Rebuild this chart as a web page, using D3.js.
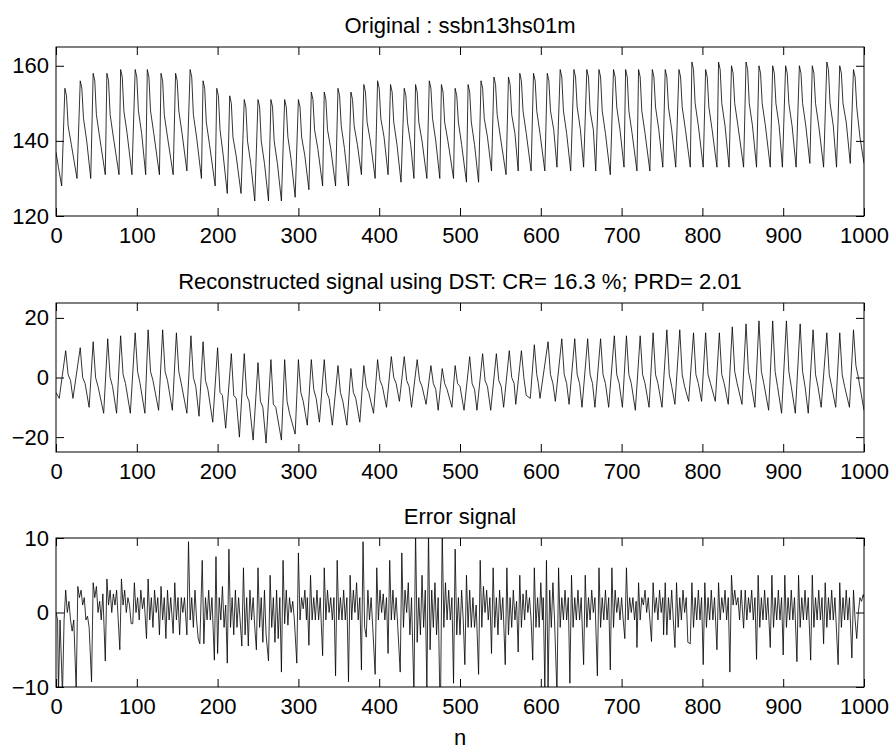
<!DOCTYPE html>
<html>
<head>
<meta charset="utf-8">
<script src="https://cdnjs.cloudflare.com/ajax/libs/d3/7.8.5/d3.min.js"></script>
<style>
body { margin: 0; background: #fff; }
text { font-family: "Liberation Sans", Arial, sans-serif; }
</style>
</head>
<body>
<script>
var w = 893;
var h = 749;

var xTicks = [0, 100, 200, 300, 400, 500, 600, 700, 800, 900, 1000];
var origTicks = [120, 140, 160];
var recTicks = [-20, 0, 20];
var errTicks = [-10, 0, 10];

var titles = ["Original : ssbn13hs01m",
  "Reconstructed signal using DST: CR= 16.3 %; PRD= 2.01",
  "Error signal"];

// [n, value] (peak, shoulder, knee, trough per beat)
var original = [[0,137],[3,133],[7,128],
  [11,154],[13,152],[15,144],[19,139],[26,130],
  [30,156],[32,154],[34,146],[38,140],[43,130],
  [46,158],[48,156],[50,147],[54,141],[61,131],
  [63,158],[65,156],[67,147],[71,141],[78,131],
  [80,159],[82,157],[84,148],[88,142],[94,131],
  [98,159],[100,157],[102,148],[106,142],[111,131],
  [113,159],[115,157],[117,148],[121,142],[128,131],
  [130,158],[132,156],[134,147],[138,141],[145,131],
  [148,158],[150,156],[152,148],[156,142],[162,132],
  [166,159],[168,157],[170,147],[174,141],[180,130],
  [182,156],[184,154],[186,145],[190,139],[197,128],
  [199,154],[201,152],[203,143],[207,136],[212,126],
  [215,152],[217,150],[219,141],[223,136],[229,126],
  [233,151],[235,149],[237,140],[241,134],[246,124],
  [250,151],[252,149],[254,140],[258,134],[263,124],
  [266,151],[268,149],[270,140],[274,134],[279,124],
  [283,151],[285,149],[287,141],[291,135],[296,125],
  [300,151],[302,149],[304,141],[308,136],[313,127],
  [316,153],[318,151],[320,143],[324,138],[330,128],
  [332,153],[334,151],[336,143],[340,138],[346,128],
  [349,154],[351,152],[353,144],[357,138],[362,128],
  [365,153],[367,151],[369,144],[373,139],[378,131],
  [381,155],[383,153],[385,145],[389,140],[395,130],
  [398,156],[400,154],[402,146],[406,141],[411,131],
  [414,155],[416,153],[418,145],[422,139],[427,129],
  [431,154],[433,152],[435,145],[439,139],[443,130],
  [445,155],[447,153],[449,145],[453,140],[459,130],
  [462,156],[464,154],[466,146],[470,140],[475,130],
  [477,155],[479,153],[481,145],[485,140],[492,130],
  [494,154],[496,152],[498,145],[502,139],[508,129],
  [510,155],[512,153],[514,145],[518,139],[523,129],
  [526,156],[528,154],[530,146],[534,141],[539,132],
  [542,157],[544,155],[546,147],[550,141],[557,131],
  [560,157],[562,155],[564,147],[568,142],[572,132],
  [574,158],[576,156],[578,148],[582,142],[588,132],
  [591,158],[593,156],[595,148],[599,142],[605,132],
  [608,158],[610,156],[612,148],[616,143],[620,133],
  [624,159],[626,157],[628,148],[632,142],[637,132],
  [641,159],[643,157],[645,149],[649,143],[653,133],
  [657,159],[659,157],[661,148],[665,143],[668,132],
  [672,159],[674,157],[676,148],[680,142],[686,131],
  [690,159],[692,157],[694,149],[698,143],[703,133],
  [705,159],[707,157],[709,148],[713,142],[719,132],
  [721,159],[723,157],[725,148],[729,142],[735,132],
  [738,159],[740,157],[742,149],[746,143],[751,133],
  [754,159],[756,157],[758,149],[762,143],[767,133],
  [771,159],[773,157],[775,149],[779,143],[785,133],
  [787,161],[789,159],[791,150],[795,144],[801,133],
  [804,159],[806,157],[808,149],[812,143],[818,133],
  [820,161],[822,159],[824,150],[828,144],[833,133],
  [836,160],[838,158],[840,150],[844,144],[851,133],
  [854,161],[856,159],[858,150],[862,144],[867,133],
  [870,160],[872,158],[874,150],[878,144],[884,133],
  [887,160],[889,158],[891,150],[895,144],[899,133],
  [903,160],[905,158],[907,150],[911,144],[916,133],
  [920,160],[922,158],[924,150],[928,144],[933,134],
  [936,160],[938,158],[940,150],[944,144],[950,133],
  [954,161],[956,159],[958,150],[962,144],[966,133],
  [970,160],[972,158],[974,150],[978,145],[983,134],
  [987,159],[989,157],[991,149],[995,141],[1000,134]];

// reconstructed panel: peak, notch, notch end, trough per beat
var reconstructed = [[0,-5],[4,-7],
  [12,9],[15,1],[18,-1],[21,-7],
  [30,10],[33,0],[36,-2],[41,-10],
  [46,12],[49,0],[52,-3],[59,-12],
  [64,13],[67,0],[70,-3],[75,-12],
  [80,14],[83,1],[86,-2],[92,-12],
  [98,15],[101,2],[104,-2],[110,-12],
  [114,16],[117,2],[120,-1],[127,-11],
  [132,16],[135,2],[138,-1],[144,-11],
  [149,15],[152,2],[155,-2],[162,-12],
  [167,14],[170,0],[173,-3],[177,-13],
  [182,12],[185,-1],[188,-4],[194,-15],
  [200,10],[203,-5],[206,-6],[210,-17],
  [217,8],[220,-6],[223,-7],[227,-20],
  [233,8],[236,-6],[239,-8],[244,-21],
  [250,5],[253,-8],[256,-10],[260,-22],
  [266,6],[269,-9],[272,-10],[279,-21],
  [283,6],[286,-8],[289,-12],[296,-19],
  [300,6],[303,-5],[306,-8],[311,-16],
  [316,6],[319,-4],[322,-7],[326,-15],
  [332,6],[335,-5],[338,-7],[342,-16],
  [349,4],[352,-5],[355,-8],[360,-16],
  [365,3],[368,-5],[371,-7],[376,-15],
  [381,4],[384,-3],[387,-5],[393,-12],
  [398,6],[401,-1],[404,-3],[409,-10],
  [415,7],[418,0],[421,-2],[425,-8],
  [431,7],[434,-1],[437,-3],[440,-10],
  [447,6],[450,-1],[453,-3],[458,-9],
  [464,4],[467,-2],[470,-4],[473,-11],
  [478,3],[481,-2],[484,-4],[490,-10],
  [494,4],[497,-2],[500,-3],[505,-11],
  [512,7],[515,-2],[518,-4],[521,-11],
  [528,8],[531,-1],[534,-3],[538,-11],
  [545,8],[548,-1],[551,-3],[554,-10],
  [561,9],[564,0],[567,-2],[569,-9],
  [576,9],[579,0],[582,-6],[587,-7],
  [592,11],[595,1],[597,-2],[599,-7],
  [609,12],[612,1],[615,-2],[618,-8],
  [626,13],[629,1],[632,-2],[635,-9],
  [642,13],[645,1],[648,-2],[651,-10],
  [658,13],[661,1],[664,-2],[667,-10],
  [674,13],[677,1],[680,-2],[684,-10],
  [691,14],[694,1],[697,-2],[701,-10],
  [706,14],[709,1],[712,-2],[717,-11],
  [723,14],[726,1],[729,-2],[734,-10],
  [739,15],[742,1],[745,-2],[750,-10],
  [756,16],[759,1],[762,-3],[766,-9],
  [772,16],[775,1],[778,-3],[783,-8],
  [789,15],[792,1],[795,-2],[799,-8],
  [804,15],[807,1],[810,-2],[816,-8],
  [821,15],[824,1],[827,-2],[832,-9],
  [837,17],[840,2],[843,-2],[849,-9],
  [854,18],[857,2],[860,-2],[865,-10],
  [870,19],[873,2],[876,-2],[882,-11],
  [887,19],[890,2],[893,-3],[898,-12],
  [904,19],[907,2],[910,-3],[915,-12],
  [921,18],[924,2],[927,-3],[931,-12],
  [937,16],[940,1],[943,-3],[947,-10],
  [954,15],[957,1],[960,-3],[965,-10],
  [970,15],[973,1],[976,-3],[982,-10],
  [987,16],[990,4],[993,0],[1000,-11]];

// error panel
var errorSig = [[0,0],[2,-1],[3,-11],[5,-1],[8,-11],[10,-1],[12,3],[14,0],[16,1.5],[18,-1],[20,-2.5],[22,-1],
  [25,-10.5],[27,3.5],[29,2],[31,3],[33,1],[35,2],[37,-1],[39,-0.5],[41,-2],
  [44,-9.3],[46,4],[48,2],[50,3.5],[52,0],[54,1.5],[56,-1],[58,2.5],
  [61,-6.5],[63,4.5],[65,1],[67,3],[69,0],[71,2.5],[73,1],[75,3],[77,-1],
  [79,-5],[81,4.5],[83,1],[85,3],[87,0],[89,2],[91,1],[93,-1.5],
  [95,-1.5],[97,4],[99,0],[101,2],[103,-1],[105,3],[107,0.5],[109,2],
  [112,-3.5],[114,4.5],[116,-1],[118,2],[120,-2],[122,3],[124,0],[126,2],
  [128,-3],[130,3.5],[132,-1],[134,2],[136,-3.5],[138,3],[140,-1],[142,2],
  [145,-2.8],[147,4],[149,-1],[151,2],[153,-3],[155,2],[157,0],[159,2],
  [162,-3],[164,9.5],[166,-1],[168,2],[170,-2],[172,3],[174,-1],[176,-3.5],
  [178,-4.2],[181,7],[183,-4.2],[185,2],[187,-1],[189,3],[191,-1],[193,2],
  [196,-6.4],[198,7.5],[200,-5.5],[202,2],[204,-1],[206,3.5],[208,-2],[210,1],
  [212,-6.8],[214,8.5],[216,-2],[218,2],[220,-3],[222,3],[224,-2],[226,2],
  [230,-4.5],[232,6],[234,-3],[236,2],[238,-4.5],[240,3],[242,-1],[244,2],[246,-2],
  [248,-5],[250,6],[252,-2],[254,2],[256,-4],[258,3],[260,-3],
  [263,-6.5],[265,5],[267,-2],[269,2],[271,-4],[273,3],[275,-3.5],[277,2],
  [279,-8],[281,7],[283,-1.5],[285,3],[287,-1.7],[289,2],[291,0],[293,1.5],[295,-1],
  [298,-6.8],[300,8],[302,-1],[304,2],[306,0.5],[308,3],[310,-1],[311,2],
  [313,-4.4],[315,5],[317,-1],[319,2],[321,-1],[323,3],[325,-1],[327,2],
  [330,-5.8],[332,6],[334,-1],[336,3],[338,0],[340,2],[342,-1],[344,2],
  [346,-8.5],[348,7],[350,-1],[352,2],[354,-1],[356,3],[358,-1],[360,2],
  [362,-9.3],[364,5],[366,-1],[368,3],[370,0],[372,4],[374,-1],[376,2],
  [378,-7.7],[380,9.5],[382,-2],[384,-3.3],[386,3],[388,-1],[390,2],[392,-2],
  [395,-8.3],[397,6],[399,-1],[401,3],[403,0],[405,2.5],[407,-1],[409,2],
  [411,-5.5],[413,7],[415,-1],[417,3],[419,-1],[421,2],[423,-2],
  [426,-8],[428,8],[430,-2],[432,3],[434,0],[436,4],[438,-3],[440,2],
  [443,-11],[445,11],[447,-4],[449,2],[451,-3],[453,5],[455,-2],[457,3],
  [459,-10.5],[461,11],[463,-5],[465,3],[467,-2],[469,4],[471,-3],[473,2],
  [475,-11],[476,-11],[478,11],[480,-2],[482,4],[484,-1],[486,3],[488,-1],[490,2],
  [492,-9.5],[494,8.5],[496,-3],[498,2],[500,-3],[502,3],[504,-1],
  [506,-7],[508,5],[510,-2],[512,3],[514,-2],[516,2],[518,-2],[520,1],
  [523,-8.3],[525,7],[527,-2],[529,3.5],[531,0],[533,3],[535,-1],[537,2],
  [539,-5.5],[541,6],[543,-2],[545,2],[547,-3],[549,3],[551,-1],[553,2],
  [556,-7],[558,6],[560,-3],[562,2],[564,-2],[566,3],[568,-1],[570,1.5],
  [572,-5.3],[574,5],[576,-2],[578,2.5],[580,-1],[582,3],[584,0],[586,2],[588,-1],
  [590,-6.4],[592,6],[594,-2],[596,2],[598,-2],[600,4],[602,-1],[603,2],
  [605,-10],[607,7],[609,-10],[611,3],[613,-2],[615,4],[617,-1],
  [620,-11],[622,6],[624,-2],[626,2],[628,-1],[630,3],[632,-1],[634,2],
  [636,-9.5],[638,5],[640,-2],[642,2],[644,-1],[646,3],[648,-1],[650,2],
  [653,-7],[655,5],[657,-2],[659,2],[661,-1],[663,3],[665,0],[667,2],
  [670,-8.5],[672,6],[674,-2],[676,2],[678,-1],[680,3],[682,-1],[684,2],
  [686,-7.7],[688,6],[690,-2],[692,3],[694,0],[696,2],[698,-1],[700,2],[702,-1],
  [704,-3.5],[706,6],[708,-1],[710,2],[712,0],[714,2],[716,-1],[718,1.5],
  [719,-4.7],[721,4],[723,-1],[725,2],[727,1],[729,3],[731,0],[733,2],[735,-1],
  [737,-3.9],[739,4],[741,0],[743,2],[745,-1],[747,3],[749,0],[751,2],
  [752,-3],[754,4],[756,-3],[758,2],[760,-1],[762,3],[764,-1],
  [766,-4.7],[768,4],[770,-2],[772,2],[774,-1],[776,3],[778,0],[780,2],[782,-4],
  [785,-4.2],[787,4],[789,-2],[791,2],[793,-1],[795,3],[797,-1],[799,2],
  [801,-7],[803,4],[805,-2],[807,2],[809,-1],[811,3],[813,-1],[815,2],
  [818,-5],[820,4],[822,-1],[824,2],[826,0],[828,3],[830,-1],[832,2],
  [834,-8],[836,5],[838,1],[840,3],[842,1],[844,2],[846,-1],[848,3],
  [851,-2.1],[853,3],[855,-1],[857,2],[859,0],[861,3],[863,-1],[865,2],
  [867,-6.3],[869,5],[871,-2],[873,2],[875,-1],[877,3],[879,-1],[881,2],
  [884,-4.7],[886,5],[888,-2],[890,2],[892,-1],[894,3],[896,-1],[898,2],
  [900,-5.7],[902,5],[904,-2],[906,2],[908,-1],[910,3],[912,-1],[914,2],
  [917,-6.6],[919,5],[921,-2],[923,2],[925,-1],[927,3],[929,-1],[931,2],
  [934,-6.4],[936,5],[938,-2],[940,2],[942,-1],[944,3],[946,-1],[948,2],
  [950,-4.2],[952,4],[954,-2],[956,2],[958,-1],[960,3],[962,-1],[964,2],
  [968,-7],[970,4],[972,-2],[974,2],[976,-1],[978,3],[980,-1],[982,2],
  [985,-6.1],[987,3],[989,-1],[991,-3.5],[993,0],[995,2],[997,1.5],[999,2.4],[1000,2]];

var left = 56, right = 864;

var panels = [
  {title: titles[0], data: original, yDomain: [120, 165], yTicks: origTicks, top: 47, bottom: 216},
  {title: titles[1], data: reconstructed, yDomain: [-25, 25], yTicks: recTicks, top: 303, bottom: 452},
  {title: titles[2], data: errorSig, yDomain: [-10, 10], yTicks: errTicks, top: 538, bottom: 687}
];

var svg = d3.select("body") //creates svg
  .append("svg")
  .attr("width", w)
  .attr("height", h);

var x = d3.scaleLinear().domain([0, 1000]).range([left, right]);

function noDomain(g) {
  g.select(".domain").remove();
  g.selectAll("line").attr("stroke", "#000");
  g.selectAll("text").attr("fill", "#000").style("font-size", "22px");
}

panels.forEach(function (p, i) {
  var y = d3.scaleLinear().domain(p.yDomain).range([p.bottom, p.top]);

  svg.append("clipPath")
    .attr("id", "clip" + i)
    .append("rect")
    .attr("x", left)
    .attr("y", p.top)
    .attr("width", right - left)
    .attr("height", p.bottom - p.top);

  var line = d3.line()
    .x(function (d) { return x(d[0]); })
    .y(function (d) { return y(d[1]); });

  svg.append("path")
    .datum(p.data)
    .attr("clip-path", "url(#clip" + i + ")")
    .attr("fill", "none")
    .attr("stroke", "#000")
    .attr("stroke-width", 0.8)
    .attr("d", line);

  //ticks point inward on all four sides, like matlab
  svg.append("g")
    .attr("transform", "translate(0," + p.bottom + ")")
    .call(d3.axisBottom(x).tickValues(xTicks).tickSize(-8).tickSizeOuter(0).tickPadding(11).tickFormat(d3.format("d")))
    .call(noDomain);
  svg.append("g")
    .attr("transform", "translate(0," + p.top + ")")
    .call(d3.axisTop(x).tickValues(xTicks).tickSize(-8).tickSizeOuter(0).tickFormat(""))
    .call(noDomain);
  svg.append("g")
    .attr("transform", "translate(" + left + ",0)")
    .call(d3.axisLeft(y).tickValues(p.yTicks).tickSize(-8).tickSizeOuter(0).tickPadding(7))
    .call(noDomain);
  svg.append("g")
    .attr("transform", "translate(" + right + ",0)")
    .call(d3.axisRight(y).tickValues(p.yTicks).tickSize(-8).tickSizeOuter(0).tickFormat(""))
    .call(noDomain);

  svg.append("rect")
    .attr("x", left)
    .attr("y", p.top)
    .attr("width", right - left)
    .attr("height", p.bottom - p.top)
    .attr("fill", "none")
    .attr("stroke", "#000")
    .attr("stroke-width", 1);

  svg.append("text")
    .attr("x", (left + right) / 2)
    .attr("y", p.top - 14)
    .attr("text-anchor", "middle")
    .style("font-size", "22px")
    .text(p.title);
});

svg.append("text")
  .attr("x", (left + right) / 2)
  .attr("y", 745)
  .attr("text-anchor", "middle")
  .style("font-size", "22px")
  .text("n");
</script>
</body>
</html>
